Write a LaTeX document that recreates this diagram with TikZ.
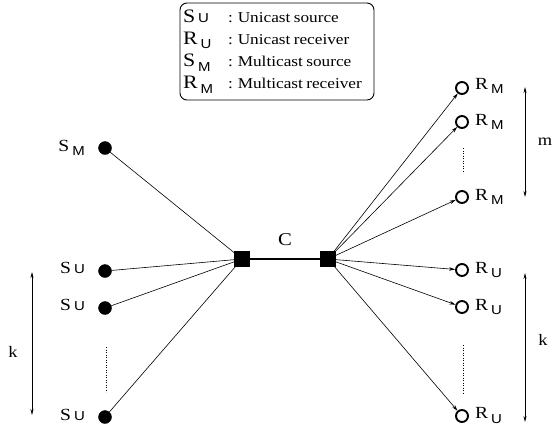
\documentclass[tikz,border=0pt]{standalone}
\usepackage{fontspec}
\setmainfont[FakeStretch=1.15]{Liberation Serif}
\setsansfont[FakeStretch=1.15]{Liberation Sans}
\usetikzlibrary{arrows.meta, positioning}

% letter with a sans subscript
\newcommand{\nm}[3]{#1\hspace{3pt}\raisebox{#3}{\fontsize{13}{13}\sffamily #2}}

\begin{document}
\begin{tikzpicture}[x=1pt, y=-1pt,
    src/.style={draw, circle, fill=black, inner sep=0pt, minimum size=13pt},
    rcv/.style={draw, circle, line width=1.9pt, inner sep=0pt, minimum size=12pt},
    router/.style={draw, rectangle, fill=black, inner sep=0pt, minimum size=15pt},
    lab/.style={font=\fontsize{17}{17}\selectfont, inner sep=0pt},
    link/.style={line width=0.6pt},
    flow/.style={line width=0.6pt, -{Stealth[length=6pt, width=3.5pt]}},
    span/.style={line width=0.6pt, {Stealth[length=6pt, width=3pt]}-{Stealth[length=6pt, width=3pt]}},
    gap/.style={dotted, line width=0.5pt}]

    \useasboundingbox (0,0) rectangle (554,429);

    % Legend
    \node[draw, rounded corners=7pt, line width=0.9pt, inner sep=3pt,
          text width=188pt, minimum height=97pt] (legend) at (277,51.5) {%
      \fontsize{15}{22}\selectfont\raisebox{-3pt}{%
      \begin{tabular}{@{}l@{}l@{}}
        \makebox[45pt][l]{\fontsize{19}{19}\selectfont\nm{S}{U}{0pt}} & : Unicast source\\
        \makebox[45pt][l]{\fontsize{19}{19}\selectfont\nm{R}{U}{-4pt}} & : Unicast receiver\\
        \makebox[45pt][l]{\fontsize{19}{19}\selectfont\nm{S}{M}{-5pt}} & : Multicast source\\
        \makebox[45pt][l]{\fontsize{19}{19}\selectfont\nm{R}{M}{-5pt}} & : Multicast receiver
      \end{tabular}}};

    % Nodes
    \node[src] (sm) at (105,148) {};
    \node[src] (su1) at (105,271) {};
    \node[src] (su2) at (105,308) {};
    \node[src] (su3) at (105,417) {};

    \node[router] (rl) at (242,259) {};
    \node[router] (rr) at (328,259) {};
    \node[lab, font=\fontsize{18}{18}\selectfont] (c) at (285,240) {C};

    \node[rcv] (rm1) at (462,88) {};
    \node[rcv] (rm2) at (462,122) {};
    \node[rcv] (rm3) at (462,197) {};
    \node[rcv] (ru1) at (462,270) {};
    \node[rcv] (ru2) at (462,307) {};
    \node[rcv] (ru3) at (462,416) {};

    % Labels
    \node[lab, anchor=base east] at (85,151) {\nm{S}{M}{-4pt}};
    \node[lab, anchor=base east] at (85,273) {\nm{S}{U}{0pt}};
    \node[lab, anchor=base east] at (85,310) {\nm{S}{U}{0pt}};
    \node[lab, anchor=base east] at (85,420) {\nm{S}{U}{0pt}};

    \node[lab, anchor=base west] at (475,89) {\nm{R}{M}{-4pt}};
    \node[lab, anchor=base west] at (475,125) {\nm{R}{M}{-4pt}};
    \node[lab, anchor=base west] at (475,200) {\nm{R}{M}{-4pt}};
    \node[lab, anchor=base west] at (475,273) {\nm{R}{U}{-4pt}};
    \node[lab, anchor=base west] at (475,310) {\nm{R}{U}{-4pt}};
    \node[lab, anchor=base west] at (475,418) {\nm{R}{U}{-5pt}};

    % Spans
    \coordinate (kltop) at (32,272);
    \coordinate (klbot) at (32,415);
    \node[lab, font=\fontsize{16}{16}\selectfont] (kl) at (13,352) {k};
    \coordinate (mtop) at (525,87);
    \coordinate (mbot) at (525,197);
    \node[lab, font=\fontsize{16}{16}\selectfont] (m) at (545,142) {m};
    \coordinate (krtop) at (525,273);
    \coordinate (krbot) at (525,422);
    \node[lab, font=\fontsize{16}{16}\selectfont] (kr) at (543,340) {k};

    \coordinate (sgtop) at (106,347);
    \coordinate (sgbot) at (106,392);
    \coordinate (mgtop) at (463,148);
    \coordinate (mgbot) at (463,173);
    \coordinate (ugtop) at (463,345);
    \coordinate (ugbot) at (463,393);

    % Arrows
    \draw[link] (sm) -- (rl);
    \draw[link] (su1) -- (rl);
    \draw[link] (su2) -- (rl);
    \draw[link] (su3) -- (rl);
    \draw[line width=2pt] (rl) -- (rr);
    \draw[flow] (rr) -- (rm1);
    \draw[flow] (rr) -- (rm2);
    \draw[flow] (rr) -- (rm3);
    \draw[flow] (rr) -- (ru1);
    \draw[flow] (rr) -- (ru2);
    \draw[flow] (rr) -- (ru3);

    \draw[span] (kltop) -- (klbot);
    \draw[span] (mtop) -- (mbot);
    \draw[span] (krtop) -- (krbot);

    \draw[gap] (sgtop) -- (sgbot);
    \draw[gap] (mgtop) -- (mgbot);
    \draw[gap] (ugtop) -- (ugbot);

\end{tikzpicture}
\end{document}
